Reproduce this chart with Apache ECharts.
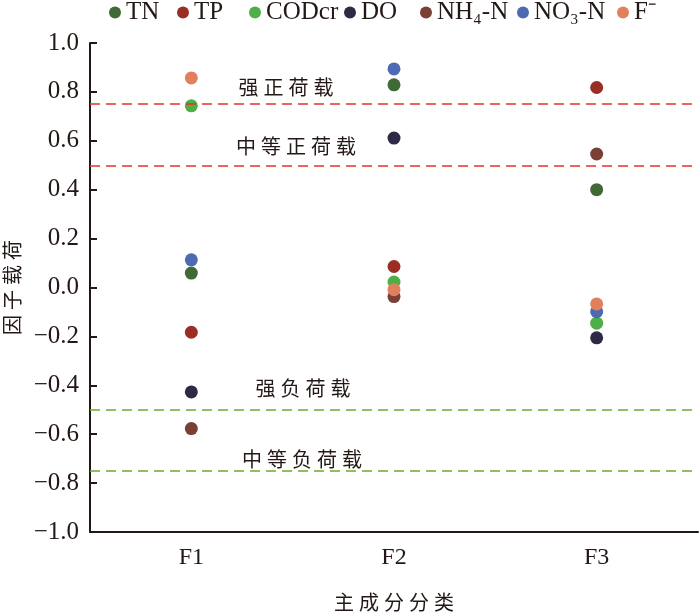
<!DOCTYPE html>
<html>
<head>
<meta charset="utf-8">
<script src="https://cdn.jsdelivr.net/npm/echarts@6/dist/echarts.min.js"></script>
<style>
html,body{margin:0;padding:0;background:#fff;}
#chart{width:700px;height:612px;}
</style>
</head>
<body>
<div id="chart"></div>
<script>
// categories & values (factor loadings)
var categories = ['F1', 'F2', 'F3'];
var names = ['TN', 'TP', 'CODcr', 'DO', 'NH\u2084-N', 'NO\u2083-N', 'F\u207B'];
var colors = ['#3f6a35', '#9a2e24', '#4fae45', '#2c2a44', '#7a3f35', '#4d6ab3', '#e0805c'];
var tn    = [0.059, 0.829, 0.400];
var tp    = [-0.183, 0.086, 0.818];
var codcr = [0.743, 0.022, -0.146];
var dox   = [-0.427, 0.611, -0.206];
var nh4   = [-0.577, -0.037, 0.546];
var no3   = [0.113, 0.894, -0.099];
var fion  = [0.857, -0.009, -0.067];
var values = [tn, tp, codcr, dox, nh4, no3, fion];

// reference lines and their captions
var refLines = [0.75, 0.5, -0.5, -0.75];
var refColors = ['#e8302a', '#e8302a', '#6aab2e', '#6aab2e'];
var refLabels = ['强正荷载', '中等正荷载', '强负荷载', '中等负荷载'];
var refLabelY = [0.817, 0.576, -0.414, -0.705];
var refLabelX = [286, 296, 303, 302];

// legend item left edges (px)
var legendLeft = [109, 177, 249, 344, 420, 517, 617];

var serif = '"Liberation Serif","Times New Roman",serif';
var cjk = '"Noto Sans CJK SC",sans-serif';
var ink = '#231815';

function spaced(s){ return s.split('').join('\u2005'); }

var chart = echarts.init(document.getElementById('chart'));

var series = [];
for (var i = 0; i < names.length; i++) {
    series.push({
        name: names[i],
        type: 'scatter',
        symbolSize: 13,
        itemStyle: {color: colors[i], opacity: 1},
        data: values[i]
    });
}
// dashed reference lines
series.push({
    type: 'line',
    data: [],
    silent: true,
    markLine: {
        symbol: ['none', 'none'],
        silent: true,
        label: {show: false},
        data: refLines.map(function(v, k){
            return {yAxis: v, lineStyle: {color: refColors[k], type: [10, 6], width: 1.6}};
        })
    }
});

var legends = names.map(function(n, k){
    return {
        data: [n],
        top: 0,
        left: legendLeft[k],
        padding: 0,
        icon: 'circle',
        itemWidth: 12,
        itemHeight: 12,
        textStyle: {fontFamily: serif, fontSize: 25, color: ink}
    };
});

var option = {
    animation: false,
    color: colors,
    legend: legends,
    grid: {left: 90, right: 2, top: 43, bottom: 80, outerBoundsMode: 'none'},
    xAxis: {
        type: 'category',
        data: categories,
        name: spaced('主成分分类'),
        nameLocation: 'middle',
        nameGap: 60,
        nameTextStyle: {fontFamily: cjk, fontSize: 20, color: ink},
        axisLine: {onZero: false, lineStyle: {color: ink, width: 2}},
        axisTick: {inside: true, alignWithLabel: true, length: 7, lineStyle: {color: ink, width: 2}},
        axisLabel: {fontFamily: serif, fontSize: 24, color: ink, margin: 14}
    },
    yAxis: {
        type: 'value',
        min: -1,
        max: 1,
        interval: 0.2,
        name: spaced('因子载荷'),
        nameLocation: 'middle',
        nameRotate: 90,
        nameGap: 68,
        nameTextStyle: {fontFamily: cjk, fontSize: 20, color: ink},
        splitLine: {show: false},
        axisLine: {show: true, lineStyle: {color: ink, width: 2}},
        axisTick: {show: true, inside: true, length: 7, lineStyle: {color: ink, width: 2}},
        axisLabel: {
            fontFamily: serif, fontSize: 25, color: ink, margin: 11,
            formatter: function(v){ return v.toFixed(1).replace('-', '\u2212'); }
        }
    },
    series: series
};

chart.setOption(option);

// captions for the reference lines
var texts = refLabels.map(function(t, k){
    return {
        type: 'text',
        x: refLabelX[k],
        y: chart.convertToPixel({yAxisIndex: 0}, refLabelY[k]),
        style: {
            text: spaced(t),
            font: '20px ' + cjk,
            fill: ink,
            align: 'center',
            verticalAlign: 'middle'
        }
    };
});
chart.setOption({graphic: texts});
</script>
</body>
</html>
